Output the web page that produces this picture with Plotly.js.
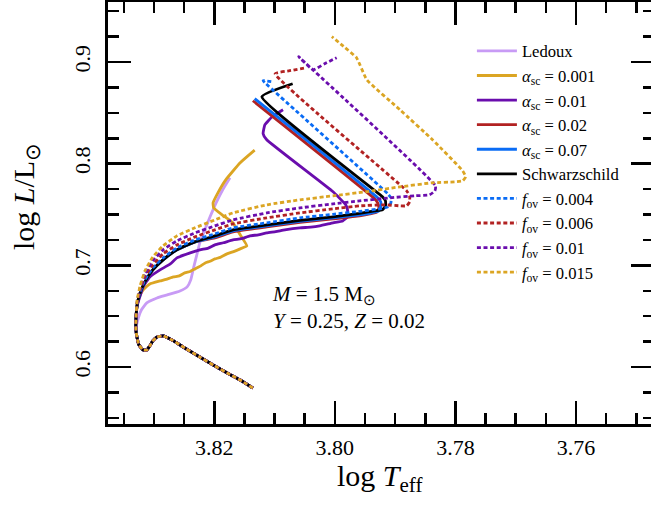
<!DOCTYPE html>
<html><head><meta charset="utf-8">
<script src="https://cdn.plot.ly/plotly-3.0.1.min.js"></script>
<style>html,body{margin:0;padding:0;overflow:hidden;background:#fff}</style>
</head><body><div id="chart"></div>
<script>
// Shared pre-main-sequence / ZAMS hook (common to every track)
var zamsLogT = [3.8136, 3.8157, 3.8174, 3.8199, 3.8224, 3.8249, 3.8270, 3.8285, 3.8295, 3.8302, 3.8307, 3.8312, 3.8318, 3.8325, 3.8328, 3.8330];
var zamsLogL = [0.5793, 0.5872, 0.5926, 0.6010, 0.6098, 0.6187, 0.6266, 0.6305, 0.6295, 0.6256, 0.6207, 0.6167, 0.6167, 0.6217, 0.6286, 0.6364];

var ledouxLogT = [3.8326, 3.8321, 3.8312, 3.8295, 3.8278, 3.8257, 3.8245, 3.8239, 3.8234, 3.8229, 3.8224, 3.8215, 3.8207, 3.8197, 3.8186, 3.8174];
var ledouxLogL = [0.6482, 0.6561, 0.6630, 0.6679, 0.6709, 0.6748, 0.6788, 0.6857, 0.6985, 0.7103, 0.7221, 0.7359, 0.7477, 0.7615, 0.7743, 0.7861];

var asc001LogT = [3.8330, 3.8328, 3.8325, 3.8318, 3.8307, 3.8290, 3.8280, 3.8268, 3.8258, 3.8249, 3.8240, 3.8232, 3.8224, 3.8215, 3.8207, 3.8199, 3.8190, 3.8179, 3.8168, 3.8157, 3.8146, 3.8157, 3.8169, 3.8187, 3.8201, 3.8202, 3.8194, 3.8181, 3.8157, 3.8133];
var asc001LogL = [0.6463, 0.6591, 0.6679, 0.6758, 0.6817, 0.6847, 0.6862, 0.6886, 0.6896, 0.6926, 0.6940, 0.6965, 0.6990, 0.7024, 0.7040, 0.7063, 0.7078, 0.7113, 0.7135, 0.7162, 0.7191, 0.7300, 0.7418, 0.7497, 0.7565, 0.7615, 0.7713, 0.7841, 0.8009, 0.8133];

var asc01LogT = [3.8330, 3.8328, 3.8323, 3.8318, 3.8307, 3.8290, 3.8273, 3.8262, 3.8240, 3.8224, 3.8210, 3.8199, 3.8185, 3.8169, 3.8155, 3.8141, 3.8127, 3.8113, 3.8098, 3.8083, 3.8058, 3.8040, 3.8025, 3.8003, 3.7987, 3.7979, 3.7979, 3.7982, 3.8003, 3.8113, 3.8119, 3.8116, 3.8104, 3.8086];
var asc01LogL = [0.6463, 0.6601, 0.6699, 0.6788, 0.6886, 0.6955, 0.7014, 0.7073, 0.7122, 0.7152, 0.7170, 0.7201, 0.7222, 0.7250, 0.7262, 0.7290, 0.7300, 0.7319, 0.7332, 0.7349, 0.7369, 0.7375, 0.7388, 0.7418, 0.7437, 0.7477, 0.7546, 0.7595, 0.7723, 0.8235, 0.8294, 0.8383, 0.8461, 0.8530];

var asc02LogT = [3.8330, 3.8328, 3.8323, 3.8315, 3.8302, 3.8285, 3.8262, 3.8232, 3.8199, 3.8169, 3.8113, 3.8058, 3.8003, 3.7959, 3.7942, 3.7930, 3.7927, 3.7929, 3.7934, 3.8136];
var asc02LogL = [0.6463, 0.6610, 0.6729, 0.6837, 0.6955, 0.7054, 0.7152, 0.7231, 0.7270, 0.7329, 0.7378, 0.7422, 0.7457, 0.7487, 0.7506, 0.7526, 0.7565, 0.7615, 0.7654, 0.8619];

var asc07LogT = [3.8330, 3.8328, 3.8323, 3.8315, 3.8302, 3.8285, 3.8262, 3.8232, 3.8199, 3.8169, 3.8113, 3.8058, 3.8003, 3.7959, 3.7939, 3.7927, 3.7924, 3.7924, 3.7929, 3.8133];
var asc07LogL = [0.6463, 0.6610, 0.6729, 0.6837, 0.6955, 0.7054, 0.7152, 0.7231, 0.7280, 0.7339, 0.7388, 0.7432, 0.7467, 0.7497, 0.7516, 0.7536, 0.7575, 0.7625, 0.7664, 0.8639];

var schwLogT = [3.8330, 3.8328, 3.8323, 3.8315, 3.8302, 3.8285, 3.8262, 3.8232, 3.8199, 3.8169, 3.8113, 3.8058, 3.8003, 3.7959, 3.7934, 3.7921, 3.7916, 3.7916, 3.7921, 3.8121, 3.8070];
var schwLogL = [0.6463, 0.6610, 0.6729, 0.6837, 0.6955, 0.7054, 0.7152, 0.7231, 0.7290, 0.7349, 0.7398, 0.7442, 0.7477, 0.7511, 0.7536, 0.7546, 0.7585, 0.7634, 0.7674, 0.8658, 0.8786];

var fov004LogT = [3.8330, 3.8328, 3.8323, 3.8315, 3.8302, 3.8285, 3.8262, 3.8232, 3.8199, 3.8169, 3.8113, 3.8058, 3.8003, 3.7959, 3.7925, 3.7912, 3.7907, 3.7907, 3.7912, 3.8116, 3.8119, 3.8104];
var fov004LogL = [0.6463, 0.6620, 0.6738, 0.6857, 0.6975, 0.7073, 0.7172, 0.7250, 0.7310, 0.7369, 0.7418, 0.7467, 0.7502, 0.7531, 0.7556, 0.7575, 0.7615, 0.7664, 0.7703, 0.8796, 0.8816, 0.8806];

var fov006LogT = [3.8330, 3.8328, 3.8323, 3.8315, 3.8302, 3.8285, 3.8262, 3.8232, 3.8199, 3.8169, 3.8113, 3.8058, 3.8003, 3.7959, 3.7917, 3.7892, 3.7881, 3.7876, 3.7876, 3.7881, 3.8099, 3.8075, 3.8048];
var fov006LogL = [0.6463, 0.6630, 0.6758, 0.6886, 0.7004, 0.7113, 0.7201, 0.7280, 0.7349, 0.7408, 0.7467, 0.7516, 0.7556, 0.7585, 0.7595, 0.7585, 0.7585, 0.7625, 0.7684, 0.7733, 0.8885, 0.8914, 0.8944];

var fov01LogT = [3.8330, 3.8328, 3.8323, 3.8315, 3.8302, 3.8285, 3.8262, 3.8232, 3.8199, 3.8169, 3.8113, 3.8058, 3.8003, 3.7959, 3.7909, 3.7867, 3.7843, 3.7834, 3.7833, 3.8060, 3.8036, 3.8017, 3.7997];
var fov01LogL = [0.6463, 0.6640, 0.6778, 0.6916, 0.7044, 0.7152, 0.7241, 0.7319, 0.7388, 0.7447, 0.7516, 0.7565, 0.7605, 0.7634, 0.7664, 0.7684, 0.7693, 0.7733, 0.7782, 0.9052, 0.8924, 0.8983, 0.9042];

var fov015LogT = [3.8330, 3.8328, 3.8323, 3.8315, 3.8302, 3.8285, 3.8262, 3.8232, 3.8199, 3.8169, 3.8113, 3.8058, 3.8003, 3.7949, 3.7892, 3.7838, 3.7801, 3.7788, 3.7783, 3.7788, 3.7838, 3.7892, 3.7947, 3.7964, 3.7983, 3.8005];
var fov015LogL = [0.6463, 0.6660, 0.6798, 0.6945, 0.7083, 0.7191, 0.7290, 0.7369, 0.7447, 0.7516, 0.7595, 0.7644, 0.7684, 0.7723, 0.7772, 0.7812, 0.7821, 0.7831, 0.7871, 0.7930, 0.8235, 0.8530, 0.8826, 0.9042, 0.9141, 0.9249];

var seriesNames = ['Ledoux', '<i>α</i><sub>sc</sub> = 0.001', '<i>α</i><sub>sc</sub> = 0.01', '<i>α</i><sub>sc</sub> = 0.02', '<i>α</i><sub>sc</sub> = 0.07', 'Schwarzschild', '<i>f</i><sub>ov</sub> = 0.004', '<i>f</i><sub>ov</sub> = 0.006', '<i>f</i><sub>ov</sub> = 0.01', '<i>f</i><sub>ov</sub> = 0.015'];
var seriesT = [ledouxLogT, asc001LogT, asc01LogT, asc02LogT, asc07LogT, schwLogT, fov004LogT, fov006LogT, fov01LogT, fov015LogT];
var seriesL = [ledouxLogL, asc001LogL, asc01LogL, asc02LogL, asc07LogL, schwLogL, fov004LogL, fov006LogL, fov01LogL, fov015LogL];
var seriesColors = ['#c89bf5', '#dba523', '#6a0dad', '#b22222', '#0a6cf5', '#000000', '#0a6cf5', '#b22222', '#6a0dad', '#dba523'];
var seriesDash = ['solid', 'solid', 'solid', 'solid', 'solid', 'solid', 'dot', 'dot', 'dot', 'dot'];

var xTickVals = [3.82, 3.80, 3.78, 3.76];
var yTickVals = [0.6, 0.7, 0.8, 0.9];

var FONT = 'Liberation Serif';
var traces = seriesNames.map(function (n, i) {
  return {
    x: zamsLogT.concat(seriesT[i]),
    y: zamsLogL.concat(seriesL[i]),
    mode: 'lines', name: n, type: 'scatter',
    line: {color: seriesColors[i], width: 2.8, dash: seriesDash[i] === 'dot' ? '4px,2.6px' : 'solid', shape: 'spline', smoothing: 0.4}
  };
});

var layout = {
  width: 654, height: 520,
  margin: {l: 108, r: 0, t: 2, b: 96},
  paper_bgcolor: '#fff', plot_bgcolor: '#fff',
  font: {family: FONT, color: '#000'},
  showlegend: true,
  legend: {x: 0.6665, y: 0.925, xanchor: 'left', yanchor: 'top', bgcolor: 'rgba(0,0,0,0)', itemwidth: 40,
           font: {family: FONT, size: 16.6, color: '#000'}, traceorder: 'normal'},
  xaxis: {range: [3.83763, 3.74706], showline: true, linewidth: 3, linecolor: '#000', mirror: 'allticks',
          ticks: 'inside', ticklen: 23, tickwidth: 2.5, tickcolor: '#000',
          tickvals: xTickVals, tickformat: '.2f', tickfont: {family: FONT, size: 22},
          ticklabelstandoff: 2,
          minor: {dtick: 0.005, tick0: 3.76, ticks: 'inside', ticklen: 11, tickwidth: 2.5, tickcolor: '#000'},
          showgrid: false, zeroline: false},
  yaxis: {range: [0.54394, 0.95901], showline: true, linewidth: 3, linecolor: '#000', mirror: 'allticks',
          ticks: 'inside', ticklen: 23, tickwidth: 2.5, tickcolor: '#000',
          tickvals: yTickVals, tickformat: '.1f', tickangle: -90, tickfont: {family: FONT, size: 22},
          ticklabelstandoff: 6,
          minor: {dtick: 0.025, tick0: 0.6, ticks: 'inside', ticklen: 11, tickwidth: 2.5, tickcolor: '#000'},
          showgrid: false, zeroline: false},
  annotations: [
    {text: 'log <i>T</i><sub>eff</sub>', xref: 'paper', yref: 'paper', x: 0.498, y: -0.128, xanchor: 'center', yanchor: 'middle',
     showarrow: false, font: {family: FONT, size: 30}},
    {text: 'log <i>L</i>/L<sub>⊙</sub>', xref: 'paper', yref: 'paper', x: -0.150, y: 0.538, xanchor: 'center', yanchor: 'middle',
     textangle: -90, showarrow: false, font: {family: FONT, size: 30}},
    {text: '<i>M</i> = 1.5 M<sub>⊙</sub><br><i>Y</i> = 0.25, <i>Z</i> = 0.02', xref: 'paper', yref: 'paper',
     x: 0.297, y: 0.275, xanchor: 'left', yanchor: 'middle', align: 'left', showarrow: false,
     font: {family: FONT, size: 21}}
  ]
};

Plotly.newPlot('chart', traces, layout, {displayModeBar: false, staticPlot: true});
</script></body></html>
